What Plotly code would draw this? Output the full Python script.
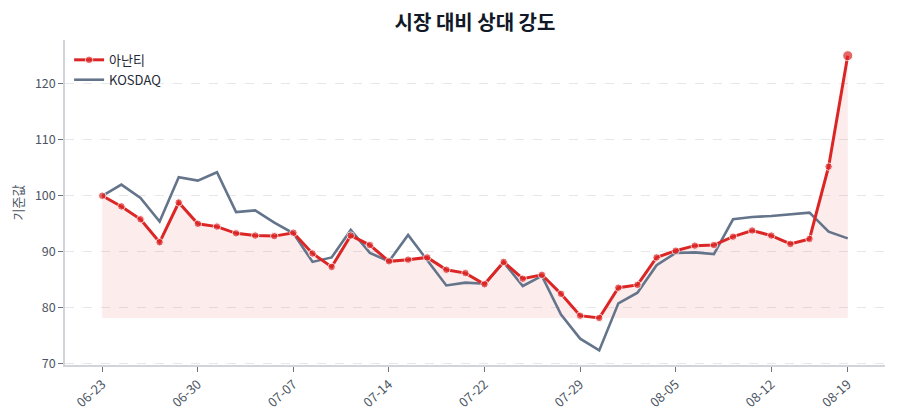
import plotly.graph_objects as go

# 거래일 (06-23 ~ 08-19)
dates = ['06-23', '06-24', '06-25', '06-26', '06-27',
         '06-30', '07-01', '07-02', '07-03', '07-04',
         '07-07', '07-08', '07-09', '07-10', '07-11',
         '07-14', '07-15', '07-16', '07-18', '07-21',
         '07-22', '07-23', '07-24', '07-25', '07-28',
         '07-29', '07-30', '07-31', '08-01', '08-04',
         '08-05', '08-06', '08-07', '08-08', '08-11',
         '08-12', '08-13', '08-14', '08-18', '08-19']

ananti = [100.0, 98.1, 95.8, 91.7, 98.8, 95.0, 94.5, 93.3, 92.9, 92.8,
          93.4, 89.7, 87.3, 92.9, 91.2, 88.3, 88.6, 89.0, 86.8, 86.2,
          84.2, 88.2, 85.2, 85.9, 82.5, 78.6, 78.2, 83.6, 84.1, 89.0,
          90.2, 91.1, 91.2, 92.7, 93.8, 92.9, 91.4, 92.3, 105.2, 125.0]

kosdaq = [100.0, 102.0, 99.6, 95.4, 103.3, 102.7, 104.2, 97.1, 97.4, 95.2,
          93.3, 88.2, 89.0, 93.9, 89.8, 88.3, 93.0, 88.6, 84.0, 84.5,
          84.3, 88.1, 83.9, 85.7, 78.8, 74.5, 72.4, 80.8, 82.7, 87.6,
          89.8, 89.9, 89.6, 95.8, 96.2, 96.4, 96.7, 97.0, 93.6, 92.4]

y_ticks = [70, 80, 90, 100, 110, 120]

RED = '#dc2626'
SLATE = '#64748b'
FONT = 'Noto Sans CJK KR, Noto Sans, sans-serif'

base = min(ananti)
tick_idx = list(range(0, len(dates), 5)) + [len(dates) - 1]

fig = go.Figure()
fig.add_trace(go.Scatter(x=dates, y=[base] * len(dates), mode='lines',
                         line=dict(width=0), showlegend=False, hoverinfo='skip'))
fig.add_trace(go.Scatter(x=dates, y=ananti, mode='lines', line=dict(width=0),
                         fill='tonexty', fillcolor='rgba(220,38,38,0.085)',
                         showlegend=False, hoverinfo='skip'))
fig.add_trace(go.Scatter(x=dates, y=kosdaq, mode='lines', name='KOSDAQ',
                         line=dict(color=SLATE, width=2.6)))
fig.add_trace(go.Scatter(x=dates, y=ananti, mode='lines+markers', name='아난티',
                         line=dict(color=RED, width=3),
                         marker=dict(color=RED, size=[7.5] * (len(dates) - 1) + [10])))

# page body has an 8px margin, so the figure is 8px smaller and margins shifted
fig.update_layout(
    width=892, height=412,
    margin=dict(l=57, r=15, t=32, b=55),
    paper_bgcolor='white', plot_bgcolor='white',
    font=dict(family=FONT, size=12, color='#4b5563'),
    title=dict(text='<b>시장 대비 상대 강도</b>', xref='paper', x=0.5, xanchor='center',
               y=0.963, yanchor='middle',
               font=dict(family=FONT, size=20, color='#111827')),
    legend=dict(x=0.005, y=0.985, xanchor='left', yanchor='top',
                traceorder='reversed', tracegroupgap=0,
                bgcolor='rgba(255,255,255,0)', font=dict(size=13, color='#1f2937')),
    showlegend=True,
)
fig.update_xaxes(
    type='category', range=[-1.95, len(dates) - 1 + 1.95],
    tickmode='array', tickvals=[dates[i] for i in tick_idx],
    tickangle=-42, ticks='outside', ticklen=5, tickcolor='#6b7280',
    showgrid=False, showline=True, linecolor='#d1d5db', linewidth=1.5,
    tickfont=dict(size=13, color='#4b5563'), zeroline=False, automargin=False,
)
fig.update_yaxes(
    range=[69.8, 127.8], tickmode='array', tickvals=y_ticks,
    ticks='outside', ticklen=5, tickcolor='#6b7280',
    showgrid=True, gridcolor='#e5e7eb', griddash='dash', gridwidth=1,
    showline=True, linecolor='#d1d5db', linewidth=1.5, zeroline=False,
    title=dict(text='기준값', font=dict(size=13, color='#4b5563'), standoff=8),
    tickfont=dict(size=12.5, color='#4b5563'), automargin=False,
)

fig.write_html("out.html")
